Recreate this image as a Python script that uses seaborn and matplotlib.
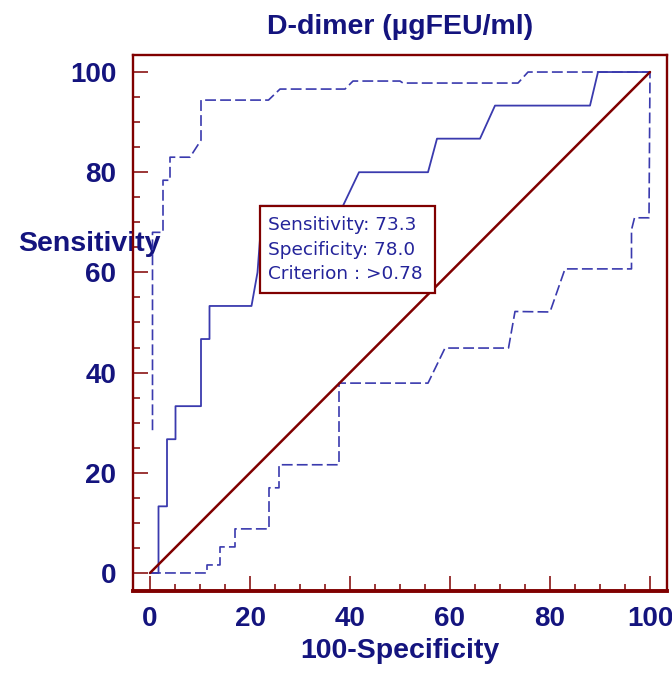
import matplotlib
matplotlib.use("Agg")
import matplotlib.pyplot as plt
import seaborn as sns
import pandas as pd
from matplotlib.patches import Rectangle
from matplotlib.ticker import MultipleLocator

# ---- data ----
roc_x = [0, 1.7, 1.7, 3.4, 3.4, 5.1, 5.1, 10.2, 10.2, 11.9, 11.9, 20.3, 21.5, 22.0, 22.0,
         38.6, 41.8, 55.6, 57.4, 66.0, 69.0, 88.0, 89.6, 100]
roc_y = [0, 0, 13.3, 13.3, 26.7, 26.7, 33.3, 33.3, 46.7, 46.7, 53.3, 53.3, 60.0, 66.7, 73.3,
         73.3, 80.0, 80.0, 86.7, 86.7, 93.3, 93.3, 100, 100]

upper_x = [0.5, 0.5, 2.6, 2.6, 4.0, 4.0, 8.0, 10.2, 10.2, 23.7, 26.0, 39.0, 40.6, 50.0,
           50.6, 73.6, 75.6, 100]
upper_y = [28.5, 68.0, 68.0, 78.4, 78.4, 83.0, 83.0, 86.4, 94.4, 94.4, 96.6, 96.6, 98.2,
           98.2, 97.8, 97.8, 100, 100]

lower_x = [0, 11.4, 11.4, 14.0, 14.0, 17.0, 17.0, 23.8, 23.8, 25.8, 25.8, 37.8, 37.8, 55.6,
           59.0, 71.7, 73.0, 80.0, 83.0, 96.3, 96.3, 96.9, 99.8, 100]
lower_y = [0, 0, 1.6, 1.6, 5.2, 5.2, 8.8, 8.8, 17.0, 17.0, 21.6, 21.6, 37.9, 37.9, 44.9,
           44.9, 52.2, 52.1, 60.7, 60.7, 68.5, 70.9, 70.9, 100]

diag_x = [0, 100]
diag_y = [0, 100]

title = "D-dimer (µgFEU/ml)"
xlabel = "100-Specificity"
ylabel = "Sensitivity"
box_lines = ["Sensitivity: 73.3", "Specificity: 78.0", "Criterion : >0.78"]
crit_x, crit_y = 22.0, 73.3
ticks = [0, 20, 40, 60, 80, 100]

# ---- style ----
sns.set_theme(style="white")
plt.rcParams["font.family"] = ["Liberation Sans", "DejaVu Sans"]

navy = "#14147e"
blue = "#3a3aae"
dred = "#800000"

fig = plt.figure(figsize=(6.72, 6.82), dpi=100)
W, H = 672, 682
ax = fig.add_axes([133 / W, 1 - 591 / H, 534 / W, 536 / H])

df_roc = pd.DataFrame({"x": roc_x, "y": roc_y})
df_up = pd.DataFrame({"x": upper_x, "y": upper_y})
df_lo = pd.DataFrame({"x": lower_x, "y": lower_y})
df_d = pd.DataFrame({"x": diag_x, "y": diag_y})

sns.lineplot(data=df_up, x="x", y="y", ax=ax, sort=False, estimator=None, color=blue,
             lw=1.2, linestyle=(0, (6.5, 2.5)))
sns.lineplot(data=df_lo, x="x", y="y", ax=ax, sort=False, estimator=None, color=blue,
             lw=1.2, linestyle=(0, (6.5, 2.5)))
sns.lineplot(data=df_roc, x="x", y="y", ax=ax, sort=False, estimator=None, color=blue, lw=1.3)
sns.lineplot(data=df_d, x="x", y="y", ax=ax, sort=False, estimator=None, color=dred, lw=1.8)

ax.set_xlim(-3.4, 103.4)
ax.set_ylim(-3.6, 103.4)

# box with criterion values, anchored at the criterion point
box_w, box_h = 35.0, 17.4
ax.add_patch(Rectangle((crit_x, crit_y - box_h), box_w, box_h, facecolor="white",
                       edgecolor=dred, lw=1.6, zorder=5))
for i, s in enumerate(box_lines):
    ax.text(crit_x + 1.5, crit_y - 3.9 - i * 4.9, s, fontsize=13.3, color="#24249a",
            family=["DejaVu Sans"], va="center", ha="left", zorder=6)

# spines
for side in ["left", "right", "top", "bottom"]:
    ax.spines[side].set_visible(True)
    ax.spines[side].set_color(dred)
    ax.spines[side].set_linewidth(1.7)
ax.spines["bottom"].set_linewidth(2.8)

ax.set_xticks(ticks)
ax.set_yticks(ticks)
ax.xaxis.set_minor_locator(MultipleLocator(5))
ax.yaxis.set_minor_locator(MultipleLocator(5))
ax.tick_params(which="major", direction="in", length=11, width=1.1, color=dred,
               bottom=True, left=True, top=False, right=False,
               labelsize=20, labelcolor=navy)
ax.tick_params(which="minor", direction="in", length=5, width=1.1, color=dred,
               bottom=True, left=True, top=False, right=False)
ax.tick_params(axis="x", pad=10.5)
ax.tick_params(axis="y", pad=12)
for lab in ax.get_xticklabels() + ax.get_yticklabels():
    lab.set_fontweight("bold")

ax.set_xlabel(xlabel, fontsize=20.5, fontweight="bold", color=navy)
ax.xaxis.set_label_coords(0.5, (591 - 651) / 536)
ax.xaxis.label.set_va("center")
ax.set_ylabel(ylabel, fontsize=20.5, fontweight="bold", color=navy, rotation=0)
ax.yaxis.set_label_coords(-0.082, 0.647)
ax.yaxis.label.set_va("center")
ax.yaxis.label.set_ha("center")
ax.yaxis.label.set_zorder(10)

ax.text(0.5, 1 + (55 - 26.5) / 536, title, transform=ax.transAxes, ha="center",
        va="center", fontsize=20.5, fontweight="bold", color=navy)

fig.savefig("out.png", dpi=100)
